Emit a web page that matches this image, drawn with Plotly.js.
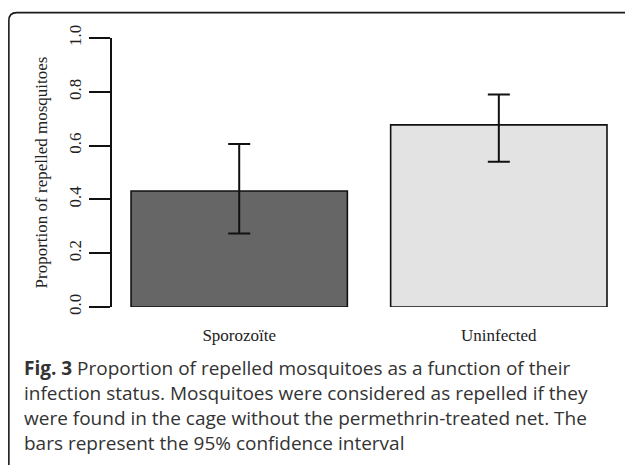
<!DOCTYPE html>
<html>
<head>
<meta charset="utf-8">
<script src="https://cdn.plot.ly/plotly-3.0.1.min.js"></script>
<style>html,body{margin:0;padding:0;background:#fff;}#chart{width:625px;height:465px;}</style>
</head>
<body>
<div id="chart"></div>
<script>
// ---- data ----
const categories = ["Sporozoïte", "Uninfected"];
const proportions = [0.431, 0.677];
const ciUpper = [0.606, 0.790];
const ciLower = [0.273, 0.540];
const yTickValues = [0, 0.2, 0.4, 0.6, 0.8, 1.0];
const yTitle = "Proportion of repelled mosquitoes";
const captionLines = [
  "<b>Fig. 3</b> Proportion of repelled mosquitoes as a function of their",
  "infection status. Mosquitoes were considered as repelled if they",
  "were found in the cage without the permethrin-treated net. The",
  "bars represent the 95% confidence interval"
];
const barColors = ["#666666", "#e3e3e3"];

// ---- layout geometry (pixels) ----
const W = 625, H = 465;
const plotL = 111.7, plotR = 625, plotT = 38.3, plotB = 306.7;
const px = x => (x - plotL) / (plotR - plotL);
const py = y => (plotB - y) / (plotB - plotT);

const xIdx = categories.map((c, i) => i);

const trace = {
  type: "bar",
  x: xIdx,
  y: proportions,
  width: 1 / 1.2,
  marker: { color: barColors, line: { color: "#111", width: 1.6 } },
  error_y: {
    type: "data",
    symmetric: false,
    array: proportions.map((p, i) => ciUpper[i] - p),
    arrayminus: proportions.map((p, i) => p - ciLower[i]),
    color: "#111",
    thickness: 2,
    width: 11
  },
  hoverinfo: "none"
};

const serif = "Liberation Serif, Times New Roman, serif";
const sans = "Open Sans, Noto Sans, sans-serif";

const captionY = [368, 393, 417, 442];
const annotations = captionLines.map((t, i) => ({
  xref: "paper", yref: "paper",
  x: px(22), y: py(captionY[i]),
  xanchor: "left", yanchor: "middle",
  text: t, showarrow: false,
  font: { family: sans, size: 19, color: "#333" }
}));

const shapes = [{
  type: "path", xref: "paper", yref: "paper",
  path: `M ${px(8.5)},${py(470)} L ${px(8.5)},${py(21)} Q ${px(8.5)},${py(13)} ${px(16.5)},${py(13)} L ${px(630)},${py(13)}`,
  line: { color: "#1a1a1a", width: 1.6 }
}];

const layout = {
  width: W, height: H,
  margin: { l: plotL, r: W - plotR, t: plotT, b: H - plotB, pad: 0 },
  paper_bgcolor: "#fff", plot_bgcolor: "#fff",
  showlegend: false,
  xaxis: {
    range: [-0.490, 1.486],
    tickmode: "array", tickvals: xIdx, ticktext: categories,
    showline: false, showgrid: false, zeroline: false, ticks: "",
    ticklabelstandoff: 16,
    tickfont: { family: serif, size: 17, color: "#222" },
    fixedrange: true
  },
  yaxis: {
    range: [0, 1],
    tickmode: "array", tickvals: yTickValues,
    tickformat: ".1f",
    tickangle: -90,
    showline: true, linecolor: "#111", linewidth: 2,
    ticks: "outside", ticklen: 21, tickwidth: 2, tickcolor: "#111",
    ticklabelstandoff: 1,
    showgrid: false, zeroline: false,
    tickfont: { family: serif, size: 17, color: "#222" },
    title: { text: yTitle, font: { family: serif, size: 17, color: "#222" }, standoff: 14 },
    automargin: false,
    fixedrange: true
  },
  annotations: annotations,
  shapes: shapes
};

Plotly.newPlot("chart", [trace], layout, { displayModeBar: false, staticPlot: true });
</script>
</body>
</html>
